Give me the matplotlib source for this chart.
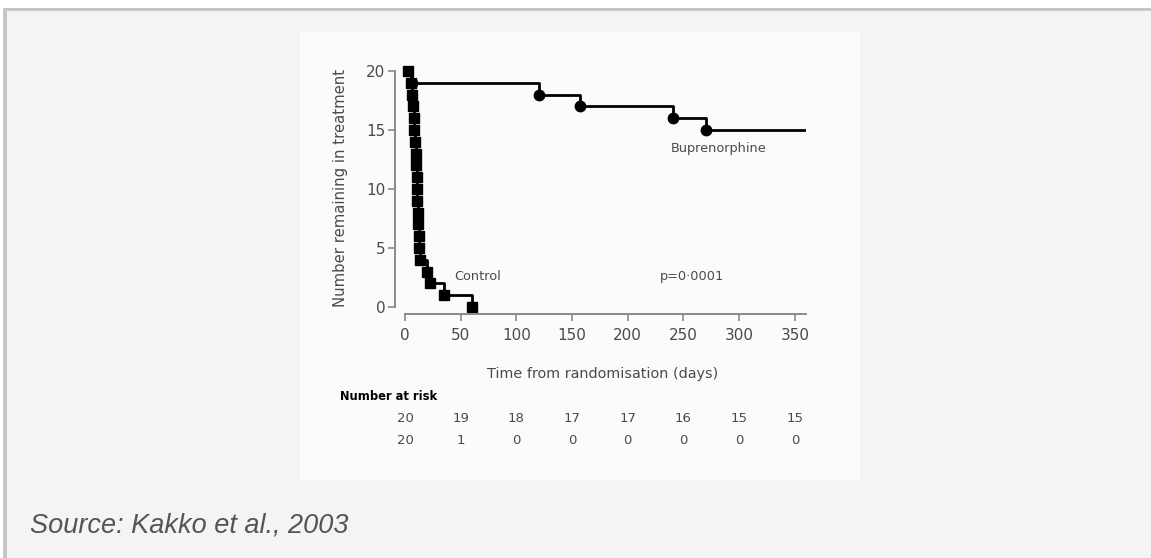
import matplotlib.pyplot as plt
import matplotlib.transforms as mtransforms
from matplotlib.patches import Rectangle

# Kaplan-Meier style data (days, number remaining)
control_days = [3, 5, 6, 7, 8, 8.5, 9, 9.5, 10, 10.5, 10.8, 11, 11.5, 12, 12.3, 12.7, 13, 20, 22, 35, 60]
control_n = [20, 19, 18, 17, 16, 15, 14, 13, 12, 11, 10, 9, 8, 7, 6, 5, 4, 3, 2, 1, 0]

bup_days = [3, 6, 120, 157, 241, 270, 360]
bup_n = [20, 19, 18, 17, 16, 15, 15]

risk_days = [0, 50, 100, 150, 200, 250, 300, 350]
risk_bup = [20, 19, 18, 17, 17, 16, 15, 15]
risk_control = [20, 1, 0, 0, 0, 0, 0, 0]

W, H = 1151, 558
fig = plt.figure(figsize=(W / 100, H / 100), dpi=100)
fig.patch.set_facecolor('white')

def px_rect(x0, y0, x1, y1, color):
    # rectangle in pixel coords (origin top-left)
    fig.patches.append(Rectangle((x0 / W, 1 - y1 / H), (x1 - x0) / W, (y1 - y0) / H,
                                 transform=fig.transFigure, facecolor=color,
                                 edgecolor='none', zorder=-10))

px_rect(3, 8, W, H, '#c6c6c6')
px_rect(7, 11, W, H, '#f4f4f4')
px_rect(300, 32, 860, 480, '#fbfcfa')

# axes placed in pixels
ax_l, ax_r, ax_t, ax_b = 395, 806, 65, 314
ax = fig.add_axes([ax_l / W, 1 - ax_b / H, (ax_r - ax_l) / W, (ax_b - ax_t) / H])
ax.set_facecolor('none')

ax.plot(bup_days, bup_n, drawstyle='steps-post', color='black', lw=2)
ax.plot(bup_days[1:-1], bup_n[1:-1], 'o', color='black', ms=7.5)
ax.plot(control_days, control_n, drawstyle='steps-post', color='black', lw=2)
ax.plot(control_days, control_n, 's', color='black', ms=6.5)

ax.set_xlim(-9, 360)
ax.set_ylim(-0.6, 20.5)
ax.spines['top'].set_visible(False)
ax.spines['right'].set_visible(False)
ax.spines['left'].set_bounds(0, 20)
ax.spines['bottom'].set_bounds(0, 360)
for s in ['left', 'bottom']:
    ax.spines[s].set_color('#8a8a8a')
    ax.spines[s].set_linewidth(1.4)

ax.set_xticks(risk_days)
ax.set_yticks([0, 5, 10, 15, 20])
ax.tick_params(axis='both', colors='#8a8a8a', labelcolor='#4a4a4a', labelsize=11, width=1.2, length=5)
ax.tick_params(axis='x', pad=5)
ax.tick_params(axis='y', pad=2)

ax.set_xlabel('Time from randomisation (days)', fontsize=10.4, color='#4a4a4a')
ax.xaxis.set_label_coords(0.504, -0.213)
ax.set_ylabel('Number remaining in treatment', fontsize=10.7, color='#4a4a4a')
ax.yaxis.set_label_coords(-0.114, 0.506)

ax.text(282, 13.4, 'Buprenorphine', fontsize=9.3, color='#4a4a4a', ha='center', va='center')
ax.text(65, 2.55, 'Control', fontsize=9.3, color='#4a4a4a', ha='center', va='center')
ax.text(258, 2.55, 'p=0\u00b70001', fontsize=9.3, color='#4a4a4a', ha='center', va='center')

# number at risk table
trans = mtransforms.blended_transform_factory(ax.transData, fig.transFigure)
fig.text(340 / W, 1 - 397 / H, 'Number at risk', fontsize=8.3, fontweight='bold',
         color='black', ha='left', va='center')
for d, b, c in zip(risk_days, risk_bup, risk_control):
    ax.text(d, 1 - 419 / H, str(b), transform=trans, fontsize=9.5, color='#4a4a4a',
            ha='center', va='center')
    ax.text(d, 1 - 440 / H, str(c), transform=trans, fontsize=9.5, color='#4a4a4a',
            ha='center', va='center')

fig.text(30 / W, 1 - 526 / H, 'Source: Kakko et al., 2003', fontsize=19.5,
         family='Liberation Sans', style='italic', color='#555555', ha='left', va='center')

fig.savefig('out.png', dpi=100)
